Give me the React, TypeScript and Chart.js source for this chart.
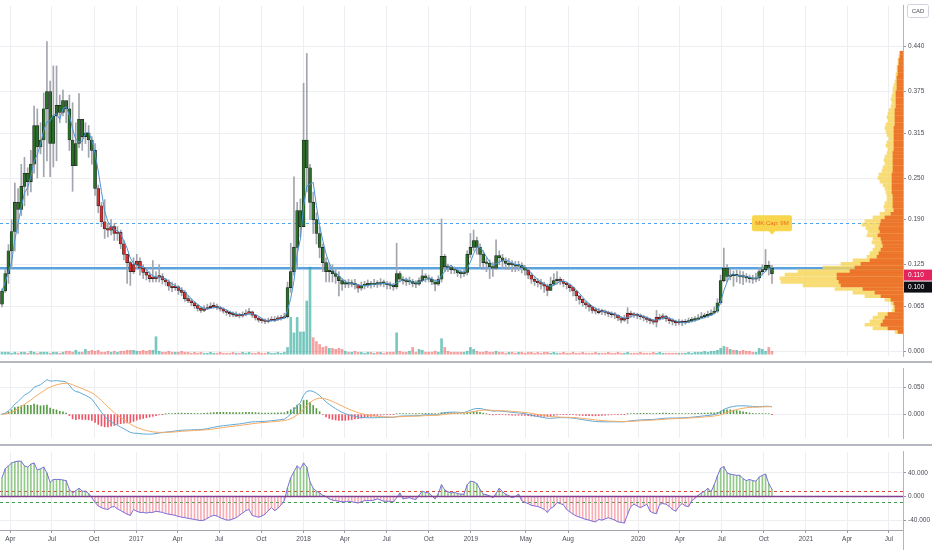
import { useEffect, useRef } from "react";
import { Chart, registerables } from "chart.js";

Chart.register(...registerables);

const FONT = "'Liberation Sans', Arial, sans-serif";
const AXIS_TEXT = "#4a4d57";
const GRID = "#eceef2";

// ---------- time axis ----------
const firstWeek = "2016-03-14";
const tickDates = [
  "2016-04-01", "2016-07-01", "2016-10-01", "2017-01-01", "2017-04-01", "2017-07-01", "2017-10-01",
  "2018-01-01", "2018-04-01", "2018-07-01", "2018-10-01", "2019-01-01", "2019-05-01", "2019-08-01",
  "2020-01-01", "2020-04-01", "2020-07-01", "2020-10-01", "2021-01-01", "2021-04-01", "2021-07-01",
];
const tickLabels = [
  "Apr", "Jul", "Oct", "2017", "Apr", "Jul", "Oct", "2018", "Apr", "Jul", "Oct", "2019", "May", "Aug",
  "2020", "Apr", "Jul", "Oct", "2021", "Apr", "Jul",
];

// ---------- weekly prices, thousandths of CAD ----------
const FIRST_OPEN = 68;
const closeK = [
  87, 112, 145, 173, 215, 205, 238, 257, 245, 270,
  326, 295, 305, 350, 375, 300, 340, 355, 345, 362,
  350, 305, 268, 300, 335, 310, 315, 305, 290, 235,
  210, 187, 177, 175, 180, 170, 172, 155, 140, 128,
  115, 125, 130, 120, 114, 110, 105, 107, 107, 108,
  103, 100, 94, 92, 93, 88, 85, 76, 73, 70,
  66, 62, 59, 61, 63, 64, 65, 63, 61, 58,
  56, 54, 53, 53, 51, 53, 55, 57, 52, 48,
  45, 44, 43, 44, 46, 46, 47, 48, 50, 92,
  115, 150, 203, 180, 305, 265, 215, 190, 170, 150,
  128, 115, 116, 112, 108, 102, 97, 98, 97, 98,
  96, 91, 95, 96, 97, 96, 98, 97, 99, 98,
  96, 95, 93, 112, 104, 102, 100, 101, 98, 97,
  102, 109, 106, 104, 100, 97, 104, 137, 122, 121,
  118, 117, 113, 112, 114, 140, 150, 160, 150, 140,
  128, 127, 122, 120, 138, 135, 130, 127, 127, 125,
  123, 124, 121, 117, 110, 104, 101, 99, 97, 94,
  88, 97, 102, 104, 101, 98, 96, 92, 87, 80,
  75, 70, 67, 64, 59, 58, 58, 57, 56, 54,
  53, 52, 48, 45, 47, 55, 53, 52, 51, 50,
  48, 46, 44, 42, 49, 49, 50, 47, 44, 43,
  41, 42, 41, 42, 44, 45, 46, 48, 50, 51,
  52, 55, 58, 70, 102, 120, 108, 110, 109, 110,
  108, 107, 106, 105, 104, 106, 115, 118, 124, 120,
  112,
];
const highK = [
  90, 118, 154, 190, 243, 235, 270, 280, 265, 290,
  354, 350, 330, 373, 447, 390, 412, 412, 370, 377,
  360, 370, 359, 330, 372, 335, 330, 326, 310, 300,
  240, 215, 219, 185, 190, 185, 180, 175, 160, 140,
  130, 135, 140, 135, 125, 120, 115, 131, 115, 125,
  112, 105, 103, 100, 98, 95, 92, 88, 80, 76,
  72, 68, 64, 66, 68, 70, 70, 68, 65, 63,
  60, 58, 57, 57, 55, 57, 60, 62, 58, 53,
  50, 48, 47, 48, 50, 50, 51, 52, 55, 100,
  156, 252, 215, 220, 387, 430, 270, 230, 200, 180,
  155, 135, 128, 125, 120, 115, 105, 103, 104, 103,
  104, 97, 100, 101, 103, 101, 104, 102, 105, 103,
  101, 100, 98, 156, 115, 108, 106, 107, 104, 102,
  106, 118, 112, 110, 107, 103, 109, 191, 140, 126,
  124, 122, 119, 117, 118, 145, 170, 175, 165, 155,
  145, 135, 132, 128, 161, 145, 140, 135, 134, 131,
  130, 130, 128, 124, 120, 113, 108, 105, 104, 100,
  97, 107, 112, 115, 107, 104, 100, 97, 93, 88,
  80, 76, 72, 69, 65, 63, 62, 61, 60, 58,
  57, 56, 53, 50, 52, 63, 58, 56, 55, 54,
  52, 50, 48, 46, 59, 53, 54, 52, 49, 47,
  45, 46, 45, 46, 48, 49, 50, 53, 56, 55,
  58, 60, 64, 76, 110, 149, 125, 118, 116, 117,
  116, 115, 112, 110, 110, 113, 120, 125, 147, 130,
  124,
];
const lowK = [
  64, 85, 98, 120, 145, 170, 196, 210, 225, 230,
  257, 250, 285, 252, 275, 252, 266, 275, 330, 340,
  330, 290, 231, 280, 294, 290, 300, 280, 270, 225,
  200, 180, 163, 165, 168, 160, 160, 148, 132, 98,
  95, 112, 120, 110, 105, 103, 100, 100, 100, 100,
  97, 95, 88, 86, 88, 82, 80, 72, 70, 66,
  62, 58, 56, 57, 60, 62, 62, 60, 58, 55,
  52, 50, 50, 50, 48, 49, 51, 53, 49, 45,
  42, 41, 40, 41, 43, 43, 44, 45, 47, 48,
  85, 110, 120, 165, 180, 230, 190, 170, 155, 135,
  115, 100, 100, 100, 98, 80, 88, 92, 92, 93,
  90, 85, 88, 90, 92, 91, 93, 92, 94, 93,
  90, 90, 88, 90, 100, 97, 95, 96, 93, 92,
  95, 100, 100, 100, 96, 87, 95, 100, 115, 115,
  112, 112, 108, 106, 108, 110, 135, 145, 140, 121,
  118, 115, 105, 108, 118, 125, 120, 118, 118, 115,
  115, 116, 113, 110, 105, 98, 95, 93, 90, 85,
  80, 88, 95, 97, 96, 93, 90, 86, 80, 73,
  68, 65, 62, 58, 55, 54, 54, 53, 52, 50,
  49, 47, 44, 41, 43, 40, 49, 49, 47, 46,
  44, 42, 40, 39, 35, 45, 46, 43, 40, 38,
  37, 38, 37, 39, 41, 42, 43, 45, 47, 48,
  49, 52, 54, 56, 68, 100, 100, 103, 94, 100,
  98, 96, 100, 99, 98, 100, 102, 110, 115, 110,
  98,
];
// candle colouring, as runs of [colour, number of weeks]
const trendRuns: [string, number][] = [
  ["g", 30], ["r", 59], ["g", 22], ["r", 1], ["g", 52], ["r", 7], ["g", 3], ["r", 40], ["g", 27],
];
// volume, relative units
const volume = [
  2, 2, 2, 1, 2, 1, 2, 2, 1, 3,
  2, 1, 2, 2, 2, 1, 2, 2, 1, 2,
  3, 3, 2, 4, 2, 2, 5, 3, 4, 3,
  4, 2, 2, 3, 2, 3, 2, 3, 3, 4,
  4, 4, 3, 3, 4, 3, 4, 4, 18, 3,
  2, 2, 3, 2, 2, 2, 3, 2, 2, 1,
  2, 1, 2, 1, 1, 2, 1, 1, 2, 1,
  1, 1, 2, 1, 1, 2, 1, 2, 1, 1,
  2, 1, 1, 2, 1, 1, 2, 1, 2, 7,
  38, 22, 38, 23, 23, 55, 90, 17, 13, 10,
  7, 8, 6, 6, 5, 6, 5, 3, 2, 2,
  3, 2, 2, 1, 2, 2, 1, 2, 2, 1,
  2, 2, 2, 22, 3, 2, 2, 3, 7, 2,
  5, 4, 2, 2, 2, 3, 2, 16, 7, 3,
  2, 2, 2, 2, 2, 3, 7, 5, 3, 2,
  2, 3, 2, 2, 3, 2, 2, 1, 2, 2,
  1, 2, 2, 1, 2, 2, 1, 2, 1, 2,
  2, 1, 2, 1, 1, 2, 1, 1, 2, 1,
  1, 2, 1, 1, 1, 2, 1, 1, 1, 2,
  1, 1, 2, 1, 1, 2, 1, 1, 1, 2,
  1, 1, 1, 2, 1, 2, 1, 1, 1, 1,
  1, 1, 1, 1, 2, 1, 2, 2, 2, 3,
  2, 3, 3, 4, 6, 8, 7, 5, 4, 4,
  3, 4, 3, 3, 2, 2, 6, 5, 3, 7,
  3,
];
// weeks whose volume bar is teal although the close fell
const volumeUpWeeks = [93, 95, 96];
// lower oscillator
const oscillator = [
  32, 47, 52, 57, 59, 60, 60, 52, 50, 55,
  57, 45, 47, 50, 40, 24, 29, 29, 29, 28,
  27, 12, 6, 10, 14, 9, 9, 5, -2, -10,
  -16, -19, -21, -22, -18, -17, -21, -24, -27, -30,
  -32, -22, -25, -27, -27, -28, -27, -27, -25, -26,
  -27, -29, -30, -31, -32, -34, -35, -36, -37, -38,
  -39, -40, -41, -40, -37, -34, -32, -33, -36, -38,
  -40, -40, -38, -36, -32, -28, -24, -22, -32, -34,
  -35, -33, -30, -24, -19, -24, -20, -14, -7, 15,
  32, 42, 52, 47, 57, 50, 25, 14, 9, 6,
  2, 0, -4, -6, -7, -8, -9, -9, -8, -9,
  -10, -11, -9, -7, -7, -7, -6, -4, -6, -8,
  -8, -8, -9, -2, 6, -4, -3, -2, -4, -5,
  2, 9, 7, 6, 1, -4, 5, 20, 11, 8,
  6, 7, 5, 4, 4, 20, 26, 25, 22, 12,
  4, 3, 1, -2, 5, 14, 8, 4, 1, -2,
  0, 4, -7, -10, -12, -15, -16, -17, -19, -22,
  -27, -20, -17, -10, -12, -14, -22, -26, -30, -33,
  -35, -37, -39, -40, -42, -43, -39, -40, -38, -36,
  -38, -40, -43, -44, -45, -30, -17, -13, -16, -19,
  -16, -13, -25, -28, -29, -13, -12, -13, -17, -22,
  -25, -17, -12, -16, -17, -7, -3, 2, 6, 9,
  14, 8, 20, 35, 48, 51, 40, 38, 37, 36,
  36, 30, 27, 29, 27, 26, 33, 36, 38, 22,
  12,
];
// volume profile (price bins from 0.035 upward, step 0.005)
const profileLow = 0.035;
const profileStep = 0.005;
const profileTotal = [
  8, 30, 38, 33, 30, 25, 11, 10, 12, 18,
  38, 50, 68, 100, 122, 123, 118, 105, 80, 62,
  50, 36, 33, 30, 28, 31, 30, 36, 35, 37,
  41, 38, 30, 23, 18, 19, 18, 16, 16, 17,
  18, 20, 23, 25, 24, 21, 20, 18, 19, 18,
  16, 15, 17, 16, 14, 16, 17, 18, 17, 15,
  16, 15, 14, 12, 11, 12, 11, 10, 10, 9,
  8, 7, 7, 6, 6, 5, 5, 4, 3,
];
const profileUp = [
  5, 15, 22, 20, 18, 15, 8, 8, 9, 12,
  22, 28, 40, 62, 64, 66, 66, 53, 48, 42,
  33, 26, 24, 22, 20, 21, 22, 25, 23, 24,
  23, 22, 18, 12, 9, 10, 10, 10, 10, 11,
  11, 11, 11, 11, 11, 10, 10, 10, 10, 10,
  10, 9, 9, 9, 9, 9, 9, 9, 8, 8,
  8, 8, 8, 7, 7, 7, 7, 7, 6, 6,
  6, 6, 5, 5, 5, 4, 4, 3, 3,
];

const priceTicks = [0, 0.065, 0.125, 0.19, 0.25, 0.315, 0.375, 0.44];
const macdTicks = [0, 0.05];
const oscTicks = [-40, 0, 40];
const supportLevel = 0.12;
const resistanceLevel = 0.185;
const oscUpper = 10;
const oscLower = -10;
const lastPriceTag = 0.11;
const markPriceTag = 0.1;
const noteText = "MK.Cap: 9M";
const notePrice = 0.166;
const MA_LEN = 4;

// ---------- scale ranges ----------
const X_MIN = -297.4;
const X_MAX = 1672.9;
const PRICE_MIN = -0.00698;
const PRICE_MAX = 0.4987;
const MACD_MIN = -0.04516;
const MACD_MAX = 0.0855;
const OSC_MIN = -56.9;
const OSC_MAX = 75.8;

const DAY_MS = 86400000;
const EPOCH = Date.UTC(2017, 0, 1);
const dayOf = (iso: string) => (Date.parse(iso + "T00:00:00Z") - EPOCH) / DAY_MS;
const tickDays = tickDates.map(dayOf);
const day0 = dayOf(firstWeek);
const weekX = closeK.map((_, i) => day0 + 7 * i);

const closeP = closeK.map((v) => v / 1000);
const openP = closeK.map((_, i) => (i === 0 ? FIRST_OPEN : closeK[i - 1]) / 1000);
const highP = highK.map((v) => v / 1000);
const lowP = lowK.map((v) => v / 1000);
const trend: string[] = [];
trendRuns.forEach(([c, n]) => {
  for (let k = 0; k < n; k++) trend.push(c);
});

function sma(values: number[], len: number) {
  return values.map((_, i) => {
    const s = values.slice(Math.max(0, i - len + 1), i + 1);
    return s.reduce((a, b) => a + b, 0) / s.length;
  });
}
function ema(values: number[], len: number) {
  const k = 2 / (len + 1);
  const out: number[] = [];
  let prev = values[0];
  values.forEach((v, i) => {
    prev = i === 0 ? v : prev + k * (v - prev);
    out.push(prev);
  });
  return out;
}
const maLine = sma(closeP, MA_LEN);
const ema12 = ema(closeP, 12);
const ema26 = ema(closeP, 26);
const macdLine = ema12.map((v, i) => v - ema26[i]);
const signalLine = ema(macdLine, 9);
const macdHist = macdLine.map((v, i) => v - signalLine[i]);

function xScale(showLabels: boolean): any {
  return {
    type: "linear",
    min: X_MIN,
    max: X_MAX,
    offset: false,
    afterBuildTicks: (s: any) => {
      s.ticks = tickDays.map((v) => ({ value: v }));
    },
    afterFit: (s: any) => {
      s.height = showLabels ? 20 : 0;
    },
    ticks: {
      display: showLabels,
      autoSkip: false,
      maxRotation: 0,
      minRotation: 0,
      padding: 2,
      color: AXIS_TEXT,
      font: { size: 6.5, family: FONT },
      callback: (_v: any, i: number) => tickLabels[i],
    },
    grid: {
      color: GRID,
      offset: false,
      drawTicks: showLabels,
      tickLength: 3,
      tickColor: "#9598a1",
    },
    border: { display: showLabels, color: "#a3a6af" },
  };
}

function yScale(min: number, max: number, ticks: number[]): any {
  return {
    type: "linear",
    position: "right",
    min,
    max,
    afterBuildTicks: (s: any) => {
      s.ticks = ticks.map((v) => ({ value: v }));
    },
    afterFit: (s: any) => {
      s.width = 29;
    },
    ticks: {
      padding: 2,
      crossAlign: "near",
      color: AXIS_TEXT,
      font: { size: 6.5, family: FONT },
      callback: (v: any) => Number(v).toFixed(3),
    },
    grid: { color: GRID, drawTicks: true, tickLength: 3, tickColor: "#9598a1" },
    border: { display: true, color: "#b2b5be" },
  };
}

const baseOptions: any = {
  animation: false,
  responsive: false,
  maintainAspectRatio: false,
  events: [],
  layout: { padding: 0 },
  plugins: { legend: { display: false }, tooltip: { enabled: false } },
};

const mainDecor = {
  id: "mainDecor",
  beforeDatasetsDraw(chart: any) {
    const { ctx, chartArea: a, scales } = chart;
    const y = scales.y;
    ctx.save();
    ctx.beginPath();
    ctx.rect(a.left, a.top, a.right - a.left, a.bottom - a.top);
    ctx.clip();
    const yd = Math.round(y.getPixelForValue(resistanceLevel)) + 0.5;
    ctx.strokeStyle = "#4ea3ee";
    ctx.lineWidth = 1;
    ctx.setLineDash([3, 3]);
    ctx.beginPath();
    ctx.moveTo(a.left, yd);
    ctx.lineTo(a.right, yd);
    ctx.stroke();
    ctx.setLineDash([]);
    const ys = y.getPixelForValue(supportLevel);
    ctx.strokeStyle = "#5aa3df";
    ctx.lineWidth = 2.5;
    ctx.beginPath();
    ctx.moveTo(a.left, ys);
    ctx.lineTo(a.right, ys);
    ctx.stroke();
    ctx.restore();
  },
  afterDraw(chart: any) {
    const { ctx, chartArea: a, scales } = chart;
    const y = scales.y;
    const x = scales.x;
    ctx.save();
    ctx.font = `6.5px ${FONT}`;
    ctx.textBaseline = "middle";
    ctx.textAlign = "left";
    // price tags
    const yLast = y.getPixelForValue(lastPriceTag);
    ctx.fillStyle = "#e3245f";
    ctx.fillRect(a.right + 1, yLast - 5.5, 28, 11);
    ctx.fillStyle = "#ffffff";
    ctx.fillText(lastPriceTag.toFixed(3), a.right + 5, yLast + 0.5);
    const yMark = yLast + 12;
    ctx.fillStyle = "#0d0f14";
    ctx.fillRect(a.right + 1, yMark - 5.5, 28, 11);
    ctx.fillStyle = "#ffffff";
    ctx.fillText(markPriceTag.toFixed(3), a.right + 5, yMark + 0.5);
    // currency box
    ctx.fillStyle = "#ffffff";
    ctx.strokeStyle = "#d1d4dc";
    ctx.lineWidth = 1;
    ctx.beginPath();
    ctx.roundRect(907.5, 4.5, 21, 13, 2);
    ctx.fill();
    ctx.stroke();
    ctx.fillStyle = AXIS_TEXT;
    ctx.textAlign = "center";
    ctx.font = `6px ${FONT}`;
    ctx.fillText("CAD", 918, 11.5);
    // callout
    const px = x.getPixelForValue(weekX[weekX.length - 1]);
    const py = y.getPixelForValue(notePrice);
    ctx.fillStyle = "#f8d54c";
    ctx.beginPath();
    ctx.roundRect(px - 20, py - 21, 40, 16, 2);
    ctx.fill();
    ctx.beginPath();
    ctx.moveTo(px - 3.5, py - 5.5);
    ctx.lineTo(px + 3.5, py - 5.5);
    ctx.lineTo(px, py - 1.5);
    ctx.closePath();
    ctx.fill();
    ctx.fillStyle = "#e86d1f";
    ctx.font = `6px ${FONT}`;
    ctx.fillText(noteText, px, py - 13);
    ctx.restore();
  },
};

const oscDecor = {
  id: "oscDecor",
  beforeDatasetsDraw(chart: any) {
    const { ctx, chartArea: a, scales } = chart;
    const y = scales.y;
    ctx.save();
    const line = (v: number, color: string, w: number, dash: number[]) => {
      const yy = Math.round(y.getPixelForValue(v)) + 0.5;
      ctx.strokeStyle = color;
      ctx.lineWidth = w;
      ctx.setLineDash(dash);
      ctx.beginPath();
      ctx.moveTo(a.left, yy);
      ctx.lineTo(a.right, yy);
      ctx.stroke();
    };
    line(oscUpper, "#e0453c", 1, [3, 3]);
    line(oscLower, "#3f9c4a", 1, [3, 3]);
    ctx.restore();
  },
  afterDatasetsDraw(chart: any) {
    const { ctx, chartArea: a, scales } = chart;
    const yy = scales.y.getPixelForValue(0);
    ctx.save();
    ctx.strokeStyle = "#83408f";
    ctx.lineWidth = 1.6;
    ctx.beginPath();
    ctx.moveTo(a.left, yy);
    ctx.lineTo(a.right, yy);
    ctx.stroke();
    ctx.restore();
  },
};

export default function App() {
  const mainRef = useRef<HTMLCanvasElement>(null);
  const profRef = useRef<HTMLCanvasElement>(null);
  const macdRef = useRef<HTMLCanvasElement>(null);
  const oscRef = useRef<HTMLCanvasElement>(null);

  useEffect(() => {
    document.body.style.margin = "0";
    const charts: Chart[] = [];

    const wickData = weekX.map((d, i) => ({ x: d, y: [lowP[i], highP[i]] }));
    const bodyData = weekX.map((d, i) => ({ x: d, y: [openP[i], closeP[i]] }));
    const bodyColors = trend.map((t) => (t === "g" ? "#2b6e2a" : "#d2302f"));
    const volData = weekX.map((d, i) => ({ x: d, y: volume[i] }));
    const volColors = closeP.map((c, i) =>
      c >= openP[i] || volumeUpWeeks.includes(i) ? "rgba(38,166,154,0.62)" : "rgba(239,83,80,0.55)"
    );
    const maData = weekX.map((d, i) => ({ x: d, y: maLine[i] }));

    charts.push(
      new Chart(mainRef.current!, {
        type: "bar",
        data: {
          datasets: [
            {
              type: "bar",
              data: volData as any,
              yAxisID: "yv",
              backgroundColor: volColors,
              barThickness: 2,
              grouped: false,
              order: 5,
            } as any,
            {
              type: "bar",
              data: wickData as any,
              yAxisID: "y",
              backgroundColor: "#a2a5ad",
              barThickness: 1,
              grouped: false,
              order: 4,
            } as any,
            {
              type: "bar",
              data: bodyData as any,
              yAxisID: "y",
              backgroundColor: bodyColors,
              borderColor: "#1c1f1c",
              borderWidth: 0.6,
              borderSkipped: false,
              barThickness: 3,
              minBarLength: 1.5,
              grouped: false,
              order: 3,
            } as any,
            {
              type: "line",
              data: maData as any,
              yAxisID: "y",
              borderColor: "#4b93d4",
              borderWidth: 1,
              pointRadius: 0,
              order: 2,
            } as any,
          ],
        },
        options: {
          ...baseOptions,
          scales: {
            x: xScale(false),
            y: yScale(PRICE_MIN, PRICE_MAX, priceTicks),
            yv: { type: "linear", display: false, min: -2, max: 360 },
          },
        },
        plugins: [mainDecor],
      })
    );

    const profPrices = profileTotal.map((_, k) => profileLow + profileStep * k);
    charts.push(
      new Chart(profRef.current!, {
        type: "bar",
        data: {
          datasets: [
            {
              data: profileTotal.map((w, k) => ({ x: w, y: profPrices[k] })) as any,
              backgroundColor: "rgba(246,212,88,0.82)",
              barThickness: 3,
              grouped: false,
              order: 2,
            } as any,
            {
              data: profileUp.map((w, k) => ({ x: w, y: profPrices[k] })) as any,
              backgroundColor: "rgba(234,100,32,0.85)",
              barThickness: 3,
              grouped: false,
              order: 1,
            } as any,
          ],
        },
        options: {
          ...baseOptions,
          indexAxis: "y",
          scales: {
            x: { type: "linear", min: 0, max: 125, reverse: true, display: false },
            y: { type: "linear", min: PRICE_MIN, max: PRICE_MAX, display: false, offset: false },
          },
        },
      })
    );

    charts.push(
      new Chart(macdRef.current!, {
        type: "bar",
        data: {
          datasets: [
            {
              type: "bar",
              data: weekX.map((d, i) => ({ x: d, y: macdHist[i] })) as any,
              backgroundColor: macdHist.map((v) => (v >= 0 ? "#5a9b47" : "#ee5567")),
              barThickness: 1,
              grouped: false,
              order: 3,
            } as any,
            {
              type: "line",
              data: weekX.map((d, i) => ({ x: d, y: macdLine[i] })) as any,
              borderColor: "#5fa8d6",
              borderWidth: 1,
              pointRadius: 0,
              order: 2,
            } as any,
            {
              type: "line",
              data: weekX.map((d, i) => ({ x: d, y: signalLine[i] })) as any,
              borderColor: "#f6aa62",
              borderWidth: 1,
              pointRadius: 0,
              order: 1,
            } as any,
          ],
        },
        options: {
          ...baseOptions,
          scales: { x: xScale(false), y: yScale(MACD_MIN, MACD_MAX, macdTicks) },
        },
      })
    );

    charts.push(
      new Chart(oscRef.current!, {
        type: "bar",
        data: {
          datasets: [
            {
              type: "bar",
              data: weekX.map((d, i) => ({ x: d, y: oscillator[i] })) as any,
              backgroundColor: oscillator.map((v) =>
                v >= 0 ? "rgba(112,184,100,0.75)" : "rgba(242,120,134,0.6)"
              ),
              barThickness: 1,
              grouped: false,
              order: 2,
            } as any,
            {
              type: "line",
              data: weekX.map((d, i) => ({ x: d, y: oscillator[i] })) as any,
              borderColor: "#7b6fdc",
              borderWidth: 1,
              pointRadius: 0,
              order: 1,
            } as any,
          ],
        },
        options: {
          ...baseOptions,
          scales: { x: xScale(true), y: yScale(OSC_MIN, OSC_MAX, oscTicks) },
        },
        plugins: [oscDecor],
      })
    );

    return () => charts.forEach((c) => c.destroy());
  }, []);

  return (
    <div
      style={{
        position: "absolute",
        left: 0,
        top: 0,
        width: 932,
        height: 550,
        background: "#ffffff",
        overflow: "hidden",
      }}
    >
      <canvas ref={mainRef} width={932} height={362} style={{ position: "absolute", left: 0, top: 0 }} />
      <canvas ref={profRef} width={125} height={362} style={{ position: "absolute", left: 778, top: 0 }} />
      <div style={{ position: "absolute", left: 0, top: 361, width: 932, height: 2, background: "#b4b7bf" }} />
      <canvas ref={macdRef} width={932} height={81} style={{ position: "absolute", left: 0, top: 363 }} />
      <div style={{ position: "absolute", left: 0, top: 444, width: 932, height: 2, background: "#b4b7bf" }} />
      <canvas ref={oscRef} width={932} height={104} style={{ position: "absolute", left: 0, top: 446 }} />
      <div style={{ position: "absolute", left: 903, top: 530, width: 1, height: 20, background: "#b2b5be" }} />
    </div>
  );
}
